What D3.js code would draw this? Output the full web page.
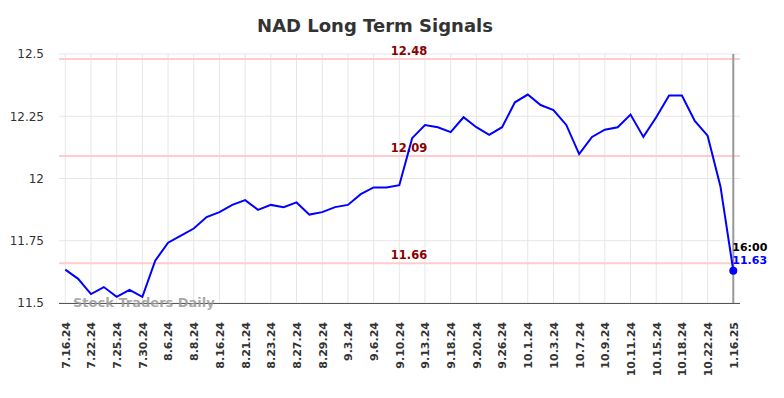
<!DOCTYPE html>
<html>
<head>
<meta charset="utf-8">
<script src="https://cdn.jsdelivr.net/npm/d3@7"></script>
<style>
  body { margin: 0; background: #fff; }
  svg { display: block; font-family: "DejaVu Sans", sans-serif; }
</style>
</head>
<body>
<svg id="chart" width="784" height="398"></svg>
<script>
// closing prices, one per session (every other one is labelled)
const values = [
  11.634, 11.597, 11.536, 11.564, 11.525, 11.553, 11.525, 11.670, 11.742, 11.771,
  11.799, 11.845, 11.865, 11.894, 11.913, 11.874, 11.894, 11.885, 11.904, 11.855,
  11.865, 11.885, 11.894, 11.937, 11.964, 11.964, 11.973, 12.162, 12.215, 12.206,
  12.186, 12.246, 12.206, 12.175, 12.206, 12.306, 12.337, 12.295, 12.275, 12.215,
  12.098, 12.167, 12.196, 12.206, 12.257, 12.167, 12.246, 12.333, 12.333, 12.231,
  12.172, 11.968, 11.63
];
const tickLabels = [
  '7.16.24', '7.22.24', '7.25.24', '7.30.24', '8.6.24', '8.8.24', '8.16.24',
  '8.21.24', '8.23.24', '8.27.24', '8.29.24', '9.3.24', '9.6.24', '9.10.24',
  '9.13.24', '9.18.24', '9.20.24', '9.26.24', '10.1.24', '10.3.24', '10.7.24',
  '10.9.24', '10.11.24', '10.15.24', '10.18.24', '10.22.24', '1.16.25'
];
const yTicks = [11.5, 11.75, 12, 12.25, 12.5];
const signals = [12.48, 12.09, 11.66];
const lastTime = '16:00';

const svg = d3.select('#chart');
const plotLeft = 59, plotRight = 740, plotTop = 54, plotBottom = 303;

const x = d3.scaleLinear()
  .domain([0, values.length - 1])
  .range([65.3, 733.3]);

const y = d3.scaleLinear()
  .domain([11.5, 12.5])
  .range([plotBottom, plotTop]);

// title
svg.append('text')
  .attr('x', 375).attr('y', 32)
  .attr('text-anchor', 'middle')
  .style('font-size', '18px').style('font-weight', 'bold')
  .attr('fill', '#333')
  .text('NAD Long Term Signals');

// grid
const tickIdx = tickLabels.map((d, i) => i * 2);
svg.append('g').selectAll('line')
  .data(yTicks)
  .enter().append('line')
  .attr('x1', plotLeft).attr('x2', plotRight)
  .attr('y1', d => y(d)).attr('y2', d => y(d))
  .attr('stroke', '#e6e6e6').attr('stroke-width', 1);
svg.append('g').selectAll('line')
  .data(tickIdx)
  .enter().append('line')
  .attr('x1', d => x(d)).attr('x2', d => x(d))
  .attr('y1', plotTop).attr('y2', plotBottom)
  .attr('stroke', '#e6e6e6').attr('stroke-width', 1);

// y axis labels
const yAxis = svg.append('g')
  .attr('transform', `translate(${plotLeft},0)`)
  .call(d3.axisLeft(y).tickValues(yTicks).tickSize(0).tickPadding(15).tickFormat(d => String(d)));
yAxis.select('.domain').remove();
yAxis.selectAll('text').attr('fill', '#333').style('font-size', '12px')
  .style('font-family', '"DejaVu Sans", sans-serif');

// x axis
const xAxis = svg.append('g')
  .attr('transform', `translate(0,${plotBottom})`)
  .call(d3.axisBottom(x).tickValues(tickIdx).tickSize(0).tickFormat((d, i) => tickLabels[i]));
xAxis.select('.domain').remove();
xAxis.selectAll('text')
  .attr('transform', 'rotate(-90)')
  .attr('x', -19).attr('y', 0).attr('dy', '0.35em')
  .attr('text-anchor', 'end')
  .attr('fill', '#333')
  .style('font-size', '11px').style('font-weight', 'bold')
  .style('font-family', '"DejaVu Sans", sans-serif');

svg.append('line')
  .attr('x1', plotLeft).attr('x2', plotRight)
  .attr('y1', plotBottom + 0.5).attr('y2', plotBottom + 0.5)
  .attr('stroke', '#555').attr('stroke-width', 1);

// signal levels
svg.append('g').selectAll('line')
  .data(signals)
  .enter().append('line')
  .attr('x1', plotLeft).attr('x2', plotRight)
  .attr('y1', d => y(d)).attr('y2', d => y(d))
  .attr('stroke', '#ffcccc').attr('stroke-width', 2);
svg.append('g').selectAll('text')
  .data(signals)
  .enter().append('text')
  .attr('x', 409).attr('y', d => y(d) - 4)
  .attr('text-anchor', 'middle')
  .attr('fill', '#8b0000')
  .style('font-size', '11.5px').style('font-weight', 'bold')
  .text(d => d.toFixed(2));

// watermark
svg.append('text')
  .attr('x', 73).attr('y', 307)
  .attr('fill', '#999').attr('fill-opacity', 0.85)
  .style('font-size', '13px').style('font-weight', 'bold')
  .text('Stock Traders Daily');

// last session marker
const last = values.length - 1;
svg.append('line')
  .attr('x1', x(last)).attr('x2', x(last))
  .attr('y1', plotTop).attr('y2', plotBottom)
  .attr('stroke', '#999').attr('stroke-width', 2);

// price line
svg.append('path')
  .datum(values)
  .attr('fill', 'none')
  .attr('stroke', '#0000ff').attr('stroke-width', 2)
  .attr('d', d3.line().x((d, i) => x(i)).y(d => y(d)));

svg.append('circle')
  .attr('cx', x(last)).attr('cy', y(values[last]))
  .attr('r', 4).attr('fill', '#0000ff');

svg.append('text')
  .attr('x', x(last) - 1).attr('y', 251)
  .attr('fill', '#000')
  .style('font-size', '11px').style('font-weight', 'bold')
  .text(lastTime);
svg.append('text')
  .attr('x', x(last) - 1).attr('y', 264)
  .attr('fill', '#0000ff')
  .style('font-size', '11px').style('font-weight', 'bold')
  .text(values[last].toFixed(2));
</script>
</body>
</html>
